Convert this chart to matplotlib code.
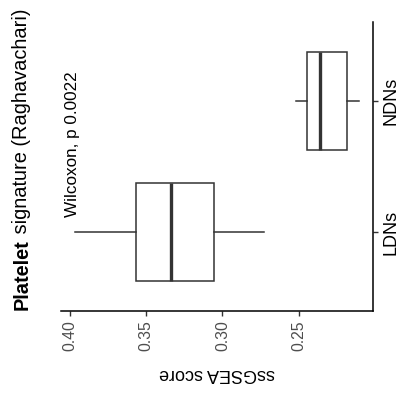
import matplotlib
matplotlib.use('Agg')
import matplotlib.pyplot as plt

plt.rcParams.update({
    'font.family': 'Liberation Sans',
    'font.size': 12,
})

# lectura de la figura: estadisticos de cada caja (ssGSEA score)
groups = ['LDNs', 'NDNs']
whislo = [0.273, 0.2105]
q1 = [0.3053, 0.2184]
med = [0.3336, 0.2362]
q3 = [0.3566, 0.2447]
whishi = [0.3967, 0.2520]
score_ticks = [0.40, 0.35, 0.30, 0.25]
p_label = 'Wilcoxon, p 0.0022'

stats = []
for i, g in enumerate(groups):
    stats.append({'label': g, 'whislo': whislo[i], 'q1': q1[i], 'med': med[i],
                  'q3': q3[i], 'whishi': whishi[i], 'fliers': []})

fig = plt.figure(figsize=(4.0, 3.99), dpi=100)
ax = fig.add_axes([61 / 400, (399 - 311) / 399, (373 - 61) / 400, (311 - 22) / 399])

line_col = '#333333'
ax.bxp(stats, positions=[1, 2], widths=0.75, orientation='horizontal',
       showcaps=False, patch_artist=True,
       boxprops=dict(facecolor='white', edgecolor=line_col, linewidth=1.1),
       whiskerprops=dict(color=line_col, linewidth=1.1),
       medianprops=dict(color=line_col, linewidth=2.4, solid_capstyle='butt'))

lo, hi = min(whislo), max(whishi)
pad = (hi - lo) * 0.05
ax.set_xlim(hi + pad, lo - pad)
ax.set_ylim(0.4, 2.6)

for s in ['left', 'top']:
    ax.spines[s].set_visible(False)
for s in ['bottom', 'right']:
    ax.spines[s].set_color('black')
    ax.spines[s].set_linewidth(1.1)

ax.set_xticks(score_ticks)
ax.set_xticklabels(['%.2f' % t for t in score_ticks], rotation=90,
                   color='#4D4D4D', fontsize=11.3)
ax.yaxis.tick_right()
ax.set_yticks([1, 2])
ax.set_yticklabels(groups, rotation=90, va='center', fontsize=13, color='black')
ax.tick_params(axis='both', length=3.5, width=1.0, color=line_col)
ax.tick_params(axis='x', pad=3)
ax.tick_params(axis='y', pad=3)

ax.set_xlabel('ssGSEA score', rotation=180, fontsize=13, labelpad=10)

ax.text(0.3985, 1.114, p_label, rotation=90, ha='center', va='bottom', fontsize=12.3)

t1 = fig.text(0.055, (399 - 310) / 399, 'Platelet', rotation=90, ha='center',
              va='bottom', fontsize=14.4, fontweight='bold')
ax.annotate(' signature (Raghavachari)', xy=(0.5, 1), xycoords=t1,
            rotation=90, ha='center', va='bottom', fontsize=14.4,
            annotation_clip=False)

fig.savefig('out.png', dpi=100)
